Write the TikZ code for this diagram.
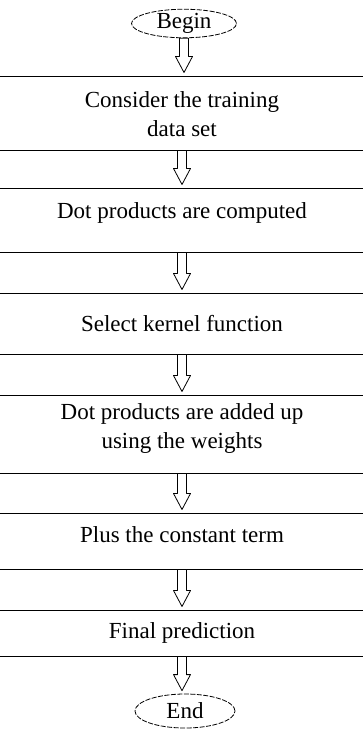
\documentclass[tikz,border=0pt]{standalone}
\usepackage{fontspec}
\setmainfont{Liberation Serif}
\usetikzlibrary{calc,shapes.geometric}
\newcommand{\flowarrow}[2]{\draw[hollowarrow] let \p1=(#1.south),\p2=(#2.north) in (\x1-4.5pt,\y1)--(\x1-4.5pt,\y2+19pt)--(\x1-8.5pt,\y2+19pt)--(\x1,\y2+3pt)--(\x1+8.5pt,\y2+19pt)--(\x1+4.5pt,\y2+19pt)--(\x1+4.5pt,\y1)--cycle;}
\begin{document}
\begin{tikzpicture}[x=1pt,y=-1pt,font=\fontsize{23}{29}\selectfont,line join=round,
	stepbox/.style={draw,line width=1pt,minimum width=390pt,inner sep=0pt},
	terminal/.style={draw,ellipse,dash pattern=on 5pt off 1.5pt,line width=0.8pt,inner sep=0pt},
	hollowarrow/.style={draw,fill=white,line width=0.8pt},
	boxtext/.style={align=center}]
	\useasboundingbox (0,0) rectangle (363,731);
	\node[terminal,minimum width=105pt,minimum height=27pt] (begin) at (184,23.5) {Begin};
	\node[stepbox,minimum height=74pt,label={[boxtext,yshift=-1pt]center:Consider the training\\data set}] (consider) at (182,113) {};
	\node[stepbox,minimum height=64pt,label={[boxtext,yshift=7pt]center:Dot products are computed}] (dot) at (182,220) {};
	\node[stepbox,minimum height=61pt,label={[boxtext]center:Select kernel function}] (kernel) at (182,323.5) {};
	\node[stepbox,minimum height=78pt,label={[boxtext,yshift=6pt]center:Dot products are added up\\using the weights}] (added) at (182,434) {};
	\node[stepbox,minimum height=56pt,label={[boxtext,yshift=6pt]center:Plus the constant term}] (plus) at (182,541) {};
	\node[stepbox,minimum height=46pt,label={[boxtext]center:Final prediction}] (final) at (182,633) {};
	\node[terminal,minimum width=100pt,minimum height=34pt] (end) at (185,711) {End};
	\flowarrow{begin}{consider}
	\flowarrow{consider}{dot}
	\flowarrow{dot}{kernel}
	\flowarrow{kernel}{added}
	\flowarrow{added}{plus}
	\flowarrow{plus}{final}
	\flowarrow{final}{end}
\end{tikzpicture}
\end{document}
